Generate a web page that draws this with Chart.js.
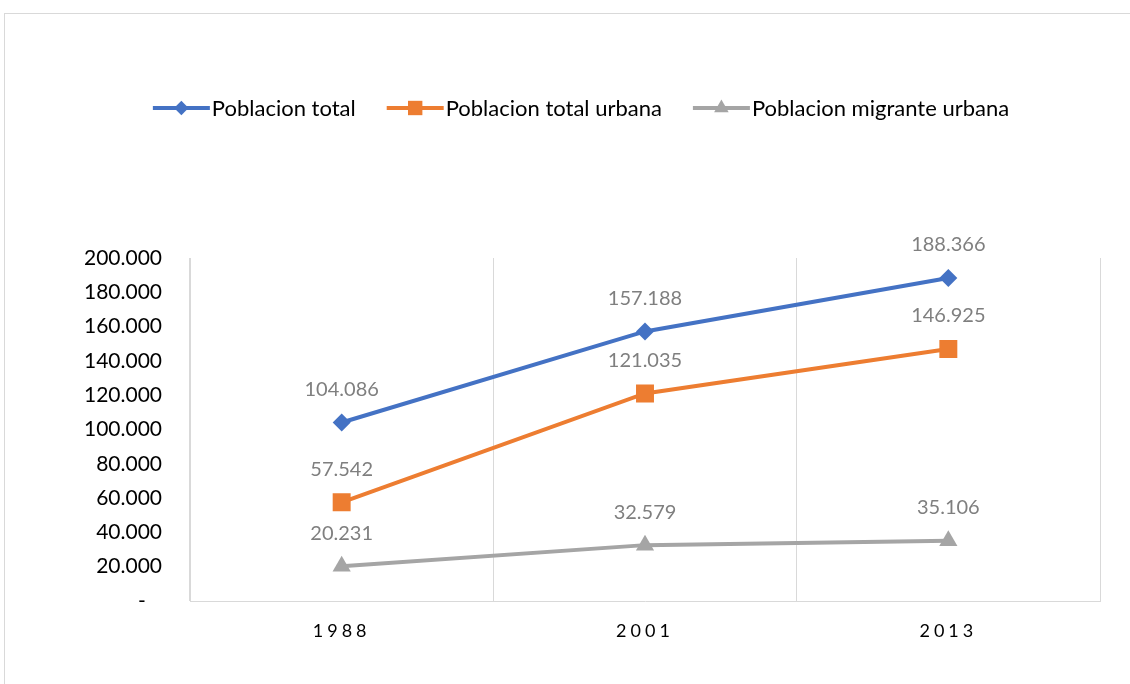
<!DOCTYPE html>
<html>
<head>
<meta charset="utf-8">
<script src="https://cdn.jsdelivr.net/npm/chart.js@4"></script>
<style>
  body { margin: 0; background: #fff; overflow: hidden; }
  #marco { position: absolute; left: 4px; top: 13px; width: 1200px; height: 720px; border: 1px solid #d9d9d9; }
  #contenedor { position: absolute; left: 0; top: 0; width: 1130px; height: 684px; }
</style>
</head>
<body>
<div id="marco"></div>
<div id="contenedor"><canvas id="grafico"></canvas></div>
<script>
// datos
const anios = ['1988', '2001', '2013'];
const poblacionTotal = [104086, 157188, 188366];
const poblacionUrbana = [57542, 121035, 146925];
const poblacionMigrante = [20231, 32579, 35106];
const nombres = ['Poblacion total', 'Poblacion total urbana', 'Poblacion migrante urbana'];

const fuente = 'Lato, "Open Sans", sans-serif';

const formato = v => v === 0 ? '-   ' : v.toLocaleString('de-DE');

// etiquetas de valores encima de cada punto
const etiquetas = {
  id: 'etiquetas',
  afterDatasetsDraw(chart) {
    const ctx = chart.ctx;
    ctx.save();
    ctx.font = '20px ' + fuente;
    ctx.fillStyle = '#7f7f7f';
    ctx.textAlign = 'center';
    ctx.textBaseline = 'middle';
    chart.data.datasets.forEach((ds, i) => {
      chart.getDatasetMeta(i).data.forEach((p, j) => {
        ctx.fillText(formato(ds.data[j]), p.x, p.y - 33);
      });
    });
    ctx.restore();
  }
};

// leyenda con linea y marcador
const leyenda = {
  id: 'leyenda',
  afterDraw(chart) {
    const ctx = chart.ctx;
    ctx.save();
    ctx.font = '22px ' + fuente;
    ctx.textBaseline = 'middle';
    const largo = 57, sep = 2, hueco = 31, y = 108;
    const anchos = chart.data.datasets.map(ds => largo + sep + ctx.measureText(ds.label).width);
    const total = anchos.reduce((a, b) => a + b, 0) + hueco * (anchos.length - 1);
    let x = 581 - total / 2;
    chart.data.datasets.forEach((ds, i) => {
      ctx.strokeStyle = ds.borderColor;
      ctx.lineWidth = 4;
      ctx.beginPath();
      ctx.moveTo(x, y);
      ctx.lineTo(x + largo, y);
      ctx.stroke();
      ctx.fillStyle = ds.borderColor;
      Chart.helpers.drawPoint(ctx, { pointStyle: ds.pointStyle, radius: ds.pointRadius * 0.8, rotation: 0, borderWidth: 0 }, x + largo / 2, y);
      ctx.fillStyle = '#000';
      ctx.fillText(ds.label, x + largo + sep, y + 1);
      x += anchos[i] + hueco;
    });
    ctx.restore();
  }
};

// espaciado de letras en los anios
const espaciado = {
  id: 'espaciado',
  afterUpdate(chart) {
    const s = chart.scales.x;
    if (s && !s._parcheado) {
      const orig = s.drawLabels;
      s.drawLabels = function (area) {
        chart.ctx.save();
        chart.ctx.letterSpacing = '4px';
        orig.call(this, area);
        chart.ctx.restore();
      };
      s._parcheado = true;
    }
  }
};

const serie = (label, data, color, estilo, radio) => ({
  label, data,
  borderColor: color,
  backgroundColor: color,
  borderWidth: 4,
  pointStyle: estilo,
  pointRadius: radio,
  pointHoverRadius: radio,
  pointBorderWidth: 0,
  tension: 0
});

new Chart(document.getElementById('grafico'), {
  type: 'line',
  data: {
    labels: anios,
    datasets: [
      serie(nombres[0], poblacionTotal, '#4472C4', 'rectRot', 9),
      serie(nombres[1], poblacionUrbana, '#ED7D31', 'rect', 12.7),
      serie(nombres[2], poblacionMigrante, '#A5A5A5', 'triangle', 10.5)
    ]
  },
  options: {
    responsive: true,
    maintainAspectRatio: false,
    animation: false,
    layout: { padding: { left: 62, right: 30, top: 258, bottom: 0 } },
    plugins: { legend: { display: false }, tooltip: { enabled: false } },
    scales: {
      x: {
        offset: true,
        grid: { offset: true, color: '#d9d9d9', lineWidth: 1, drawTicks: false },
        border: { color: '#d9d9d9' },
        ticks: { color: '#000', font: { family: fuente, size: 18 }, padding: 19 },
        afterFit: s => { s.height = 83; }
      },
      y: {
        min: 0,
        max: 200000,
        grid: { display: false, drawTicks: false },
        border: { color: '#d9d9d9' },
        ticks: { stepSize: 20000, color: '#000', font: { family: fuente, size: 21 }, padding: 28, callback: formato },
        afterFit: s => { s.width = 128; }
      }
    }
  },
  plugins: [etiquetas, leyenda, espaciado]
});
</script>
</body>
</html>
